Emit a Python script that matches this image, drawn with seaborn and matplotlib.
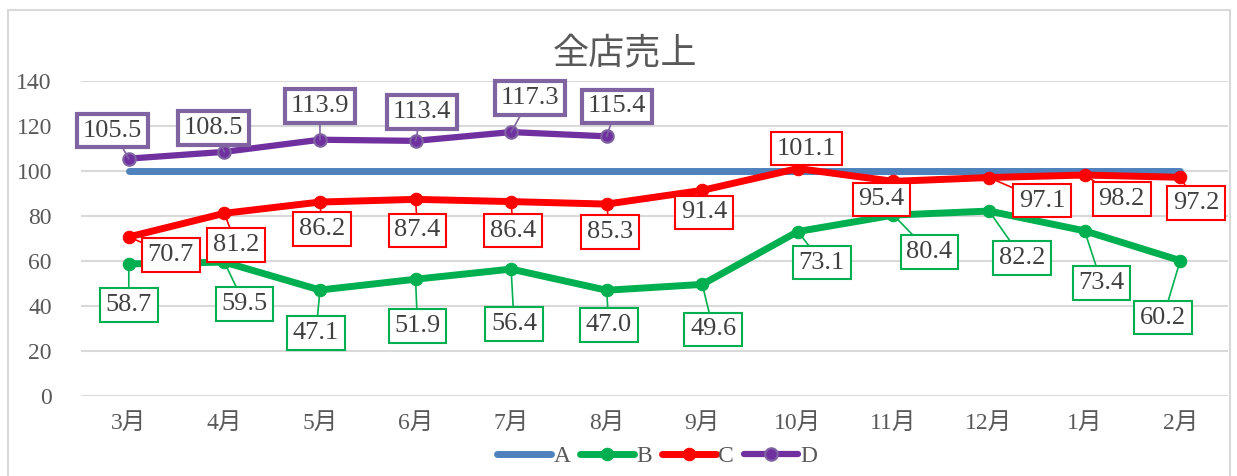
import numpy as np
import pandas as pd
import seaborn as sns
import matplotlib.pyplot as plt
from matplotlib.patches import Rectangle

# ==== data ====
months = ["3月", "4月", "5月", "6月", "7月", "8月", "9月", "10月", "11月", "12月", "1月", "2月"]
a_vals = [100, 100, 100, 100, 100, 100, 100, 100, 100, 100, 100, 100]
b_vals = [58.7, 59.5, 47.1, 51.9, 56.4, 47.0, 49.6, 73.1, 80.4, 82.2, 73.4, 60.2]
c_vals = [70.7, 81.2, 86.2, 87.4, 86.4, 85.3, 91.4, 101.1, 95.4, 97.1, 98.2, 97.2]
d_vals = [105.5, 108.5, 113.9, 113.4, 117.3, 115.4]

# label offsets (pixels, relative to the point)
b_off = [(0, -41), (20, -42), (-4, -43), (2, -47), (3, -55), (2, -35),
         (11, -45), (24, -31), (36, -37), (33, -47), (17, -52), (-17, -57)]
c_off = [(42, -18), (12, -32), (2, -27), (2, -31), (2, -29), (3, -28),
         (2, -22), (9, 20), (-12, -18), (53, -23), (37, -24), (16, -26)]
d_off = [(-16, 28), (-11, 24), (0, 34), (6, 29), (19, 34), (10, 30)]

COL_A = "#4f81bd"
COL_B = "#00b050"
COL_C = "#ff0000"
COL_D = "#7030a0"
TXT = "#404040"

sns.set_style("white")
plt.rcParams['font.family'] = ['Liberation Serif', 'Noto Sans CJK JP']

fig = plt.figure(figsize=(12.37, 4.76), dpi=100)
ax = fig.add_axes([81 / 1237, 80 / 476, 1147 / 1237, 315 / 476])

pos = np.arange(len(months))
sns.lineplot(x=pos, y=a_vals, ax=ax, color=COL_A, lw=5, label="A", solid_capstyle="round")
sns.lineplot(x=pos, y=b_vals, ax=ax, color=COL_B, lw=5, marker="o", markersize=10,
             markeredgecolor=COL_B, label="B")
sns.lineplot(x=pos, y=c_vals, ax=ax, color=COL_C, lw=5, marker="o", markersize=10,
             markeredgecolor=COL_C, label="C")
sns.lineplot(x=pos[:len(d_vals)], y=d_vals, ax=ax, color=COL_D, lw=4.5, marker="o", markersize=10,
             markeredgecolor="#8064a2", markeredgewidth=1.5, label="D")


def add_labels(vals, offs, color, lw):
    for i, (v, (dx, dy)) in enumerate(zip(vals, offs)):
        ax.annotate(f"{v:.1f}", xy=(i, v), xytext=(dx, dy), textcoords="offset pixels",
                    ha="center", va="center", fontsize=19, color=TXT, zorder=10,
                    bbox=dict(boxstyle="square,pad=0.22", fc="white", ec=color, lw=lw),
                    arrowprops=dict(arrowstyle="-", color=color, lw=1.2,
                                    shrinkA=0, shrinkB=0))


add_labels(b_vals, b_off, COL_B, 1.5)
add_labels(c_vals, c_off, COL_C, 1.5)
add_labels(d_vals, d_off, "#8064a2", 3)

ax.set_xlim(-0.5, len(months) - 0.5)
ax.set_ylim(0, 140)
ax.set_yticks(range(0, 141, 20))
ax.set_xticks(pos)
ax.set_xticklabels(months)
ax.tick_params(axis="both", labelsize=17, colors="#595959", length=0)
ax.tick_params(axis="x", pad=12)
ax.tick_params(axis="y", pad=21)
ax.grid(axis="y", color="#d9d9d9", lw=1.5)
ax.set_axisbelow(True)
for s in ax.spines.values():
    s.set_visible(False)

fig.text(625 / 1237, 1 - 55 / 476, "全店売上", ha="center", va="center", fontsize=26, color="#595959")

handles, labels = ax.get_legend_handles_labels()
for h in handles:
    h.set_markersize(9)
ax.legend(handles, labels, loc="center", bbox_to_anchor=(657 / 1237, 20 / 476),
          bbox_transform=fig.transFigure, ncol=4, frameon=False, fontsize=17,
          handlelength=2.3, handletextpad=0.1, columnspacing=0.4, labelcolor="#595959")

fig.patches.append(Rectangle((8 / 1237, -0.02), 1222 / 1237, 1.02 - 10 / 476,
                             transform=fig.transFigure, fill=False, ec="#d9d9d9", lw=1.5))

fig.savefig("out.png", dpi=100)
